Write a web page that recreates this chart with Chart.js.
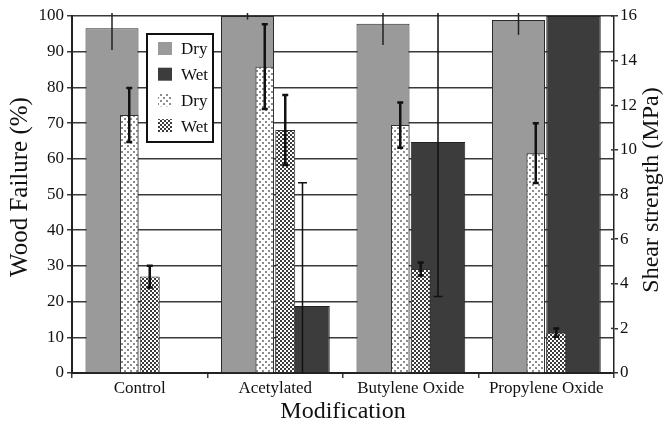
<!DOCTYPE html>
<html><head><meta charset="utf-8">
<script src="https://cdn.jsdelivr.net/npm/chart.js@4.4.1/dist/chart.umd.min.js"></script>
<style>html,body{margin:0;padding:0;background:#fff;} #wrap{width:667px;height:430px;}</style>
</head><body><div id="wrap"><canvas id="c" width="667" height="430"></canvas></div>
<script>
// ---- data ----
const categories = ['Control', 'Acetylated', 'Butylene Oxide', 'Propylene Oxide'];
const woodFailureDry = [96.6, 100, 97.8, 98.9];
const woodFailureWet = [0, 18.8, 64.7, 100];
const woodFailureDryErr = [6.1, 1.0, 5.9, 4.2];
const woodFailureWetErr = [0, 34.5, 43.3, 0];
const shearDry = [11.56, 13.73, 11.11, 9.85];
const shearWet = [4.32, 10.89, 4.66, 1.81];
const shearDryErr = [1.21, 1.9, 1.01, 1.34];
const shearWetErr = [0.49, 1.57, 0.29, 0.18];
const legendLabels = ['Dry', 'Wet', 'Dry', 'Wet'];
const leftTitle = 'Wood Failure (%)';
const rightTitle = 'Shear strength (MPa)';
const bottomTitle = 'Modification';

const FONT = "'Liberation Serif', 'Times New Roman', serif";
Chart.defaults.font.family = FONT;
Chart.defaults.color = '#111';

const canvas = document.getElementById('c');
const mainCtx = canvas.getContext('2d');
function makePattern(size, draw) {
  const t = document.createElement('canvas');
  t.width = t.height = size;
  const g = t.getContext('2d');
  g.fillStyle = '#fff'; g.fillRect(0, 0, size, size);
  draw(g);
  return mainCtx.createPattern(t, 'repeat');
}
const dotted = makePattern(6, g => { g.fillStyle = '#8c8c8c'; g.fillRect(1, 1, 2, 2); g.fillRect(4, 4, 2, 2); });
const checker = makePattern(4, g => { g.fillStyle = '#3a3a3a'; g.fillRect(0, 0, 2, 2); g.fillRect(2, 2, 2, 2); });

const errorBars = {
  id: 'errorBars',
  afterDatasetsDraw(chart) {
    const ctx = chart.ctx, a = chart.chartArea;
    chart.data.datasets.forEach((ds, di) => {
      if (!ds.errors) return;
      const meta = chart.getDatasetMeta(di);
      const ys = chart.scales[ds.yAxisID];
      const st = ds.errStyle;
      ctx.save();
      ctx.beginPath();
      ctx.rect(a.left, a.top - 3, a.right - a.left, a.bottom - a.top + 3);
      ctx.clip();
      ctx.strokeStyle = st.color; ctx.lineWidth = st.width; ctx.lineCap = 'butt';
      meta.data.forEach((bar, i) => {
        const e = ds.errors[i];
        if (!e) return;
        const v = ds.data[i];
        const x = bar.x;
        const yt = ys.getPixelForValue(v + e), yb = ys.getPixelForValue(v - e);
        ctx.beginPath();
        ctx.moveTo(x, yt); ctx.lineTo(x, yb);
        if (st.cap) {
          ctx.moveTo(x - st.cap / 2, yt); ctx.lineTo(x + st.cap / 2, yt);
          ctx.moveTo(x - st.cap / 2, yb); ctx.lineTo(x + st.cap / 2, yb);
        }
        ctx.stroke();
      });
      ctx.restore();
    });
  },
  afterDraw(chart) {
    const ctx = chart.ctx, a = chart.chartArea;
    // inward ticks on right axis
    const y1 = chart.scales.y1;
    ctx.save();
    ctx.strokeStyle = '#333'; ctx.lineWidth = 1.5;
    y1.ticks.forEach((t, i) => {
      const y = y1.getPixelForTick(i);
      ctx.beginPath(); ctx.moveTo(a.right - 3, y); ctx.lineTo(a.right, y); ctx.stroke();
    });
    ctx.restore();
    // axis titles (rotated, reading bottom-to-top on both sides)
    const vt = (text, x, y, size) => {
      ctx.save();
      ctx.fillStyle = '#111';
      ctx.font = size + "px " + FONT;
      ctx.textAlign = 'center'; ctx.textBaseline = 'middle';
      ctx.translate(x, y);
      ctx.rotate(-Math.PI / 2);
      ctx.fillText(text, 0, 0);
      ctx.restore();
    };
    vt(leftTitle, 20, 187, 25);
    vt(rightTitle, 652, 190, 24);
    // legend
    ctx.save();
    const bx = 147, by = 34, bw = 66, bh = 108;
    ctx.fillStyle = '#fff'; ctx.fillRect(bx, by, bw, bh);
    ctx.strokeStyle = '#111'; ctx.lineWidth = 2; ctx.strokeRect(bx, by, bw, bh);
    ctx.font = "17px " + FONT; ctx.textBaseline = 'middle'; ctx.textAlign = 'left';
    chart.data.datasets.forEach((ds, i) => {
      const cy = by + 15 + i * 25.7;
      ctx.fillStyle = ds.backgroundColor;
      ctx.fillRect(bx + 11, cy - 7, 14, 13);
      ctx.fillStyle = '#111';
      ctx.fillText(legendLabels[i], bx + 34, cy + 1);
    });
    ctx.restore();
  }
};

const gridColor = '#3a3a3a';
// All four bar series share one category axis; the per-series category/bar
// percentages place the overlapping wood-failure and shear-strength bars.
new Chart(canvas, {
  type: 'bar',
  data: {
    labels: categories,
    datasets: [
      { label: legendLabels[0], data: woodFailureDry, errors: woodFailureDryErr,
        errStyle: { color: '#222', width: 1.5, cap: 0 },
        yAxisID: 'y', order: 1, backgroundColor: '#9a9a9a', borderColor: '#2a2a2a', borderWidth: 1,
        categoryPercentage: 1.6384, barPercentage: 0.955 },
      { label: legendLabels[1], data: woodFailureWet, errors: woodFailureWetErr,
        errStyle: { color: '#111', width: 1.5, cap: 9 },
        yAxisID: 'y', order: 3, backgroundColor: '#3c3c3c', borderColor: '#222', borderWidth: 1,
        categoryPercentage: 0.5363, barPercentage: 3.0 },
      { label: legendLabels[2], data: shearDry, errors: shearDryErr,
        errStyle: { color: '#111', width: 2.5, cap: 6 },
        yAxisID: 'y1', order: 0, backgroundColor: dotted, borderColor: '#333', borderWidth: 1,
        categoryPercentage: 0.2066, barPercentage: 2.643 },
      { label: legendLabels[3], data: shearWet, errors: shearWetErr,
        errStyle: { color: '#111', width: 2.5, cap: 6 },
        yAxisID: 'y1', order: 2, backgroundColor: checker, borderColor: '#333', borderWidth: 1,
        categoryPercentage: 0.5904, barPercentage: 1.0 }
    ]
  },
  options: {
    responsive: false,
    animation: false,
    layout: { padding: { top: 16, left: 0, right: 0, bottom: 0 } },
    plugins: { legend: { display: false }, tooltip: { enabled: false } },
    scales: {
      x: {
        type: 'category', position: 'bottom', offset: true,
        afterFit: s => { s.height = 57; },
        grid: { offset: true, drawOnChartArea: false, drawTicks: true, tickLength: 5, color: gridColor, lineWidth: 1.5 },
        border: { display: true, color: '#222', width: 2 },
        ticks: { font: { size: 17 }, padding: 0, color: '#111', maxRotation: 0, autoSkip: false },
        title: { display: true, text: bottomTitle, font: { size: 24 }, color: '#111', padding: { top: 0, bottom: 4 } }
      },
      y: {
        position: 'left', min: 0, max: 100,
        afterFit: s => { s.width = 72; },
        ticks: { stepSize: 10, font: { size: 17 }, padding: 3, color: '#111' },
        grid: { color: gridColor, lineWidth: 1.5, tickLength: 5, drawTicks: true },
        border: { display: true, color: '#222', width: 2 }
      },
      y1: {
        position: 'right', min: 0, max: 16,
        afterFit: s => { s.width = 53; },
        ticks: { stepSize: 2, font: { size: 17 }, padding: 2, color: '#111' },
        grid: { drawOnChartArea: false, color: '#333', lineWidth: 1.5, tickLength: 4 },
        border: { display: true, color: '#222', width: 1.5 }
      }
    }
  },
  plugins: [errorBars]
});
</script>
</body></html>
